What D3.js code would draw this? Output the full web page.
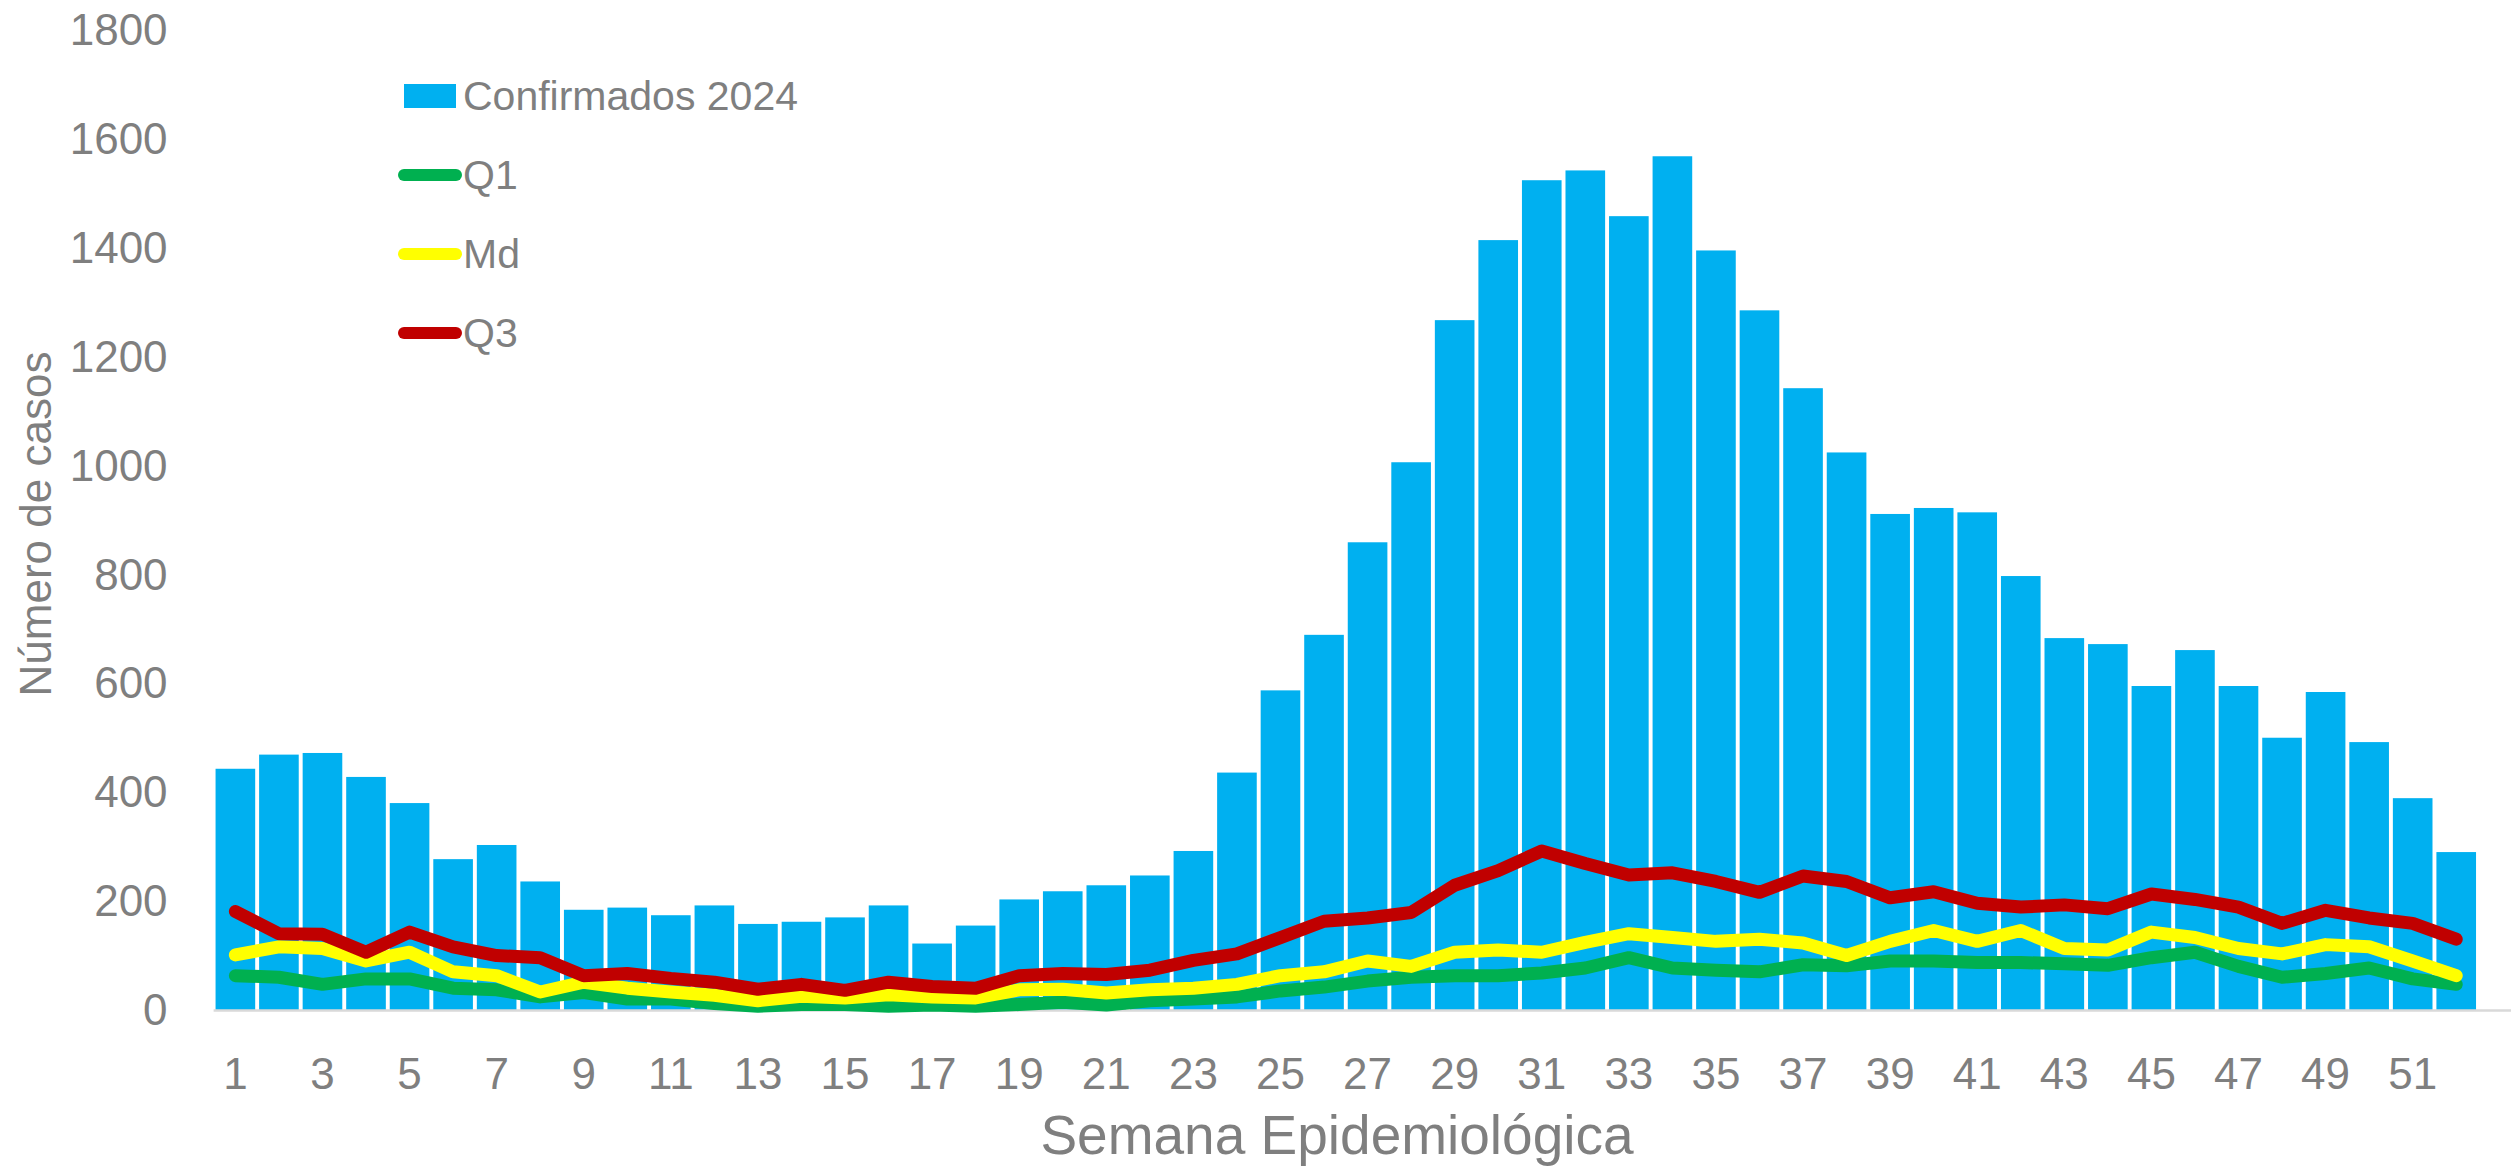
<!DOCTYPE html>
<html>
<head>
<meta charset="utf-8">
<script src="https://cdn.jsdelivr.net/npm/d3@7"></script>
<style>
  body { margin: 0; background: #fff; }
  text { font-family: "Liberation Sans", Arial, sans-serif; fill: #7f7f7f; }
</style>
</head>
<body>
<script>
// canvas
var width = 2511;
var height = 1166;

const margin = {left: 213.6, right: 33, top: 30.5, bottom: 155.5};
const innerWidth = 2478 - margin.left;
const innerHeight = 1010.5 - margin.top;

// data
var semanas = d3.range(1, 53);
var confirmados = [444, 470, 473, 429, 381, 278, 304, 237, 185, 189, 175, 193, 159, 163, 171, 193,
  123, 156, 204, 219, 230, 248, 293, 437, 588, 690, 860, 1007, 1268, 1415, 1525, 1543, 1459, 1569,
  1396, 1286, 1143, 1025, 912, 923, 915, 798, 684, 673, 596, 662, 596, 501, 585, 493, 390, 291];
var q1 = [64, 61, 48, 58, 58, 41, 38, 25, 33, 21, 21, 13, 8, 11, 11, 8, 10, 8, 11, 15, 10, 18, 21,
  25, 36, 43, 54, 61, 64, 64, 69, 78, 97, 78, 74, 71, 84, 82, 91, 91, 88, 88, 86, 83, 97, 107, 81,
  61, 68, 78, 58, 48];
var md = [102, 117, 114, 91, 107, 71, 64, 34, 52, 41, 34, 28, 18, 26, 23, 29, 25, 23, 38, 39, 32,
  38, 41, 48, 64, 71, 91, 81, 107, 111, 107, 125, 141, 134, 127, 131, 124, 101, 127, 147, 127, 147,
  114, 111, 144, 134, 114, 104, 121, 117, 91, 64];
var q3 = [182, 141, 140, 107, 144, 117, 101, 97, 64, 68, 59, 52, 39, 48, 37, 52, 44, 41, 64, 68, 66,
  74, 92, 104, 134, 164, 170, 180, 230, 257, 293, 270, 249, 253, 237, 217, 247, 237, 207, 218, 197,
  190, 194, 187, 214, 204, 190, 160, 184, 170, 160, 131];
var yTicks = [0, 200, 400, 600, 800, 1000, 1200, 1400, 1600, 1800];
var xTicks = semanas.filter(d => d % 2 === 1);

var series = [
  {name: "Q1", values: q1, color: "#00B050"},
  {name: "Md", values: md, color: "#FFFF00"},
  {name: "Q3", values: q3, color: "#C00000"}
];

var svg = d3.select("body")
  .append("svg")
  .attr("width", width)
  .attr("height", height);

// scales
var xScale = d3.scaleBand()
  .domain(semanas)
  .paddingInner(0.09)
  .paddingOuter(0.045)
  .range([0, innerWidth]);

var yScale = d3.scaleLinear()
  .domain([0, 1800])
  .range([innerHeight, 0]);

const g = svg.append('g').attr('transform', `translate(${margin.left},${margin.top})`);

// bars
g.selectAll("rect.bar")
  .data(confirmados)
  .enter()
  .append("rect")
  .attr("class", "bar")
  .attr("x", (d, i) => xScale(semanas[i]))
  .attr("y", d => yScale(d))
  .attr("width", xScale.bandwidth())
  .attr("height", d => innerHeight - yScale(d))
  .attr("fill", "#00B0F0");

// base line
g.append("line")
  .attr("x1", 0)
  .attr("x2", width - margin.left)
  .attr("y1", innerHeight)
  .attr("y2", innerHeight)
  .attr("stroke", "#d9d9d9")
  .attr("stroke-width", 2.5);

// lines
var line = d3.line()
  .x((d, i) => xScale(semanas[i]) + xScale.bandwidth() / 2)
  .y(d => yScale(d));

series.forEach(function (s) {
  g.append("path")
    .datum(s.values)
    .attr("d", line)
    .attr("fill", "none")
    .attr("stroke", s.color)
    .attr("stroke-width", 13)
    .attr("stroke-linejoin", "round")
    .attr("stroke-linecap", "round");
});

// axes
var xAxis = d3.axisBottom(xScale).tickValues(xTicks).tickSize(0).tickPadding(47);
var yAxis = d3.axisLeft(yScale).tickValues(yTicks).tickFormat(d3.format("d")).tickSize(0).tickPadding(46);

var gx = g.append("g").attr("transform", `translate(0,${innerHeight})`).call(xAxis);
var gy = g.append("g").call(yAxis);
[gx, gy].forEach(function (a) {
  a.attr("font-size", 44).attr("font-family", "'Liberation Sans', Arial, sans-serif");
  a.select(".domain").remove();
  a.selectAll("text").attr("fill", "#7f7f7f");
});

// axis titles
svg.append("text")
  .attr("x", 1337)
  .attr("y", 1154)
  .attr("text-anchor", "middle")
  .attr("font-size", 55)
  .text("Semana Epidemiológica");

svg.append("text")
  .attr("transform", "translate(36,524) rotate(-90)")
  .attr("text-anchor", "middle")
  .attr("dy", "0.35em")
  .attr("font-size", 44)
  .text("Número de casos");

// legend
var legend = svg.append("g").attr("font-size", 41);
legend.append("rect")
  .attr("x", 404).attr("y", 84)
  .attr("width", 52).attr("height", 24)
  .attr("fill", "#00B0F0");
legend.append("text")
  .attr("x", 463).attr("y", 96)
  .attr("dy", "0.35em")
  .text("Confirmados 2024");

series.forEach(function (s, i) {
  var ly = 175 + i * 79;
  legend.append("line")
    .attr("x1", 404).attr("x2", 456)
    .attr("y1", ly).attr("y2", ly)
    .attr("stroke", s.color)
    .attr("stroke-width", 12)
    .attr("stroke-linecap", "round");
  legend.append("text")
    .attr("x", 463).attr("y", ly)
    .attr("dy", "0.35em")
    .text(s.name);
});
</script>
</body>
</html>
